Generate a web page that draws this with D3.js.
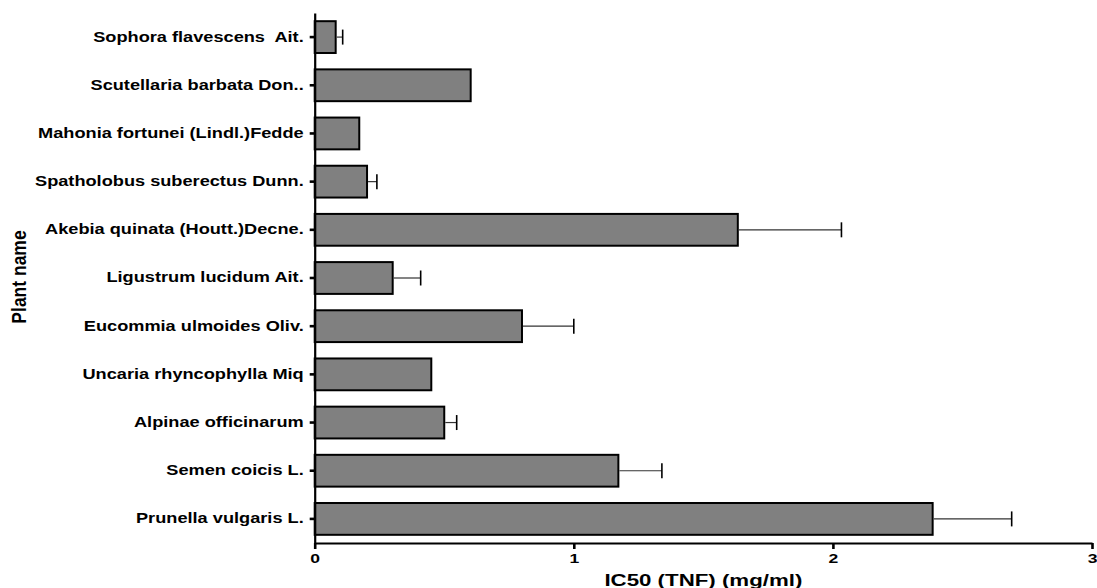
<!DOCTYPE html>
<html>
<head>
<meta charset="utf-8">
<script src="https://cdn.jsdelivr.net/npm/d3@7"></script>
<style>
  html, body { margin: 0; padding: 0; background: #fff; }
  svg { display: block; }
  text { font-family: "Liberation Sans", Arial, sans-serif; font-weight: bold; fill: #000; }
</style>
</head>
<body>
<svg id="chart" width="1097" height="588"></svg>
<script>
const categories = [
  "Sophora flavescens  Ait.",
  "Scutellaria barbata Don..",
  "Mahonia fortunei (Lindl.)Fedde",
  "Spatholobus suberectus Dunn.",
  "Akebia quinata (Houtt.)Decne.",
  "Ligustrum lucidum Ait.",
  "Eucommia ulmoides Oliv.",
  "Uncaria rhyncophylla Miq",
  "Alpinae officinarum",
  "Semen coicis L.",
  "Prunella vulgaris L."
];
const values = [0.081, 0.602, 0.172, 0.202, 1.633, 0.301, 0.800, 0.450, 0.500, 1.172, 2.385];
const errors = [0.027, 0, 0, 0.038, 0.400, 0.108, 0.200, 0, 0.048, 0.168, 0.305];
const xTicks = [0, 1, 2, 3];
const xTitle = "IC50 (TNF) (mg/ml)";
const yTitle = "Plant name";

const svg = d3.select("#chart");
const mLeft = 314.7, mRight = 1092, mTop = 13, mBottom = 543;
const stretch = 1.3;

const x = d3.scaleLinear().domain([0, 3]).range([mLeft, mRight]);
const y = d3.scaleBand().domain(categories).range([mTop, mBottom])
  .paddingInner(0.34).paddingOuter(0.17);

// bars
svg.append("g").selectAll("rect").data(categories).join("rect")
  .attr("x", x(0))
  .attr("y", d => y(d))
  .attr("width", (d, i) => x(values[i]) - x(0))
  .attr("height", y.bandwidth())
  .attr("fill", "#808080")
  .attr("stroke", "#000")
  .attr("stroke-width", 2);

// error bars (positive only)
const eg = svg.append("g");
categories.forEach((c, i) => {
  if (!errors[i]) return;
  const cy = y(c) + y.bandwidth() / 2;
  const x1 = x(values[i]), x2 = x(values[i] + errors[i]);
  eg.append("line").attr("x1", x1 + 1).attr("x2", x2).attr("y1", cy).attr("y2", cy)
    .attr("stroke", "#333").attr("stroke-width", 1.2);
  eg.append("line").attr("x1", x2).attr("x2", x2).attr("y1", cy - 7.5).attr("y2", cy + 7.5)
    .attr("stroke", "#000").attr("stroke-width", 1.6);
});

// x axis
const xAxis = svg.append("g").attr("transform", `translate(0,${mBottom})`)
  .call(d3.axisBottom(x).tickValues(xTicks).tickFormat(d3.format("d")).tickSize(6).tickSizeOuter(0));
xAxis.select(".domain").attr("stroke", "#000").attr("stroke-width", 2.2);
xAxis.selectAll(".tick line").attr("stroke", "#000").attr("stroke-width", 2.6);
xAxis.selectAll(".tick text").attr("font-size", 13.5).attr("font-family", "Liberation Sans, Arial, sans-serif")
  .attr("font-weight", "bold").attr("dy", "0.71em").attr("y", 10)
  .attr("transform", `scale(${stretch},1)`);

// y axis
const yAxis = svg.append("g").attr("transform", `translate(${mLeft},0)`)
  .call(d3.axisLeft(y).tickSize(5).tickSizeOuter(0).tickPadding(6));
yAxis.select(".domain").attr("stroke", "#000").attr("stroke-width", 2.2);
yAxis.selectAll(".tick line").attr("stroke", "#000").attr("stroke-width", 2.6);
yAxis.selectAll(".tick text").attr("font-size", 14).attr("font-family", "Liberation Sans, Arial, sans-serif")
  .attr("font-weight", "bold").style("white-space", "pre")
  .attr("x", 0).attr("transform", `translate(-11,0) scale(${stretch},1)`);

// titles
svg.append("text").attr("transform", `translate(${(mLeft + mRight) / 2},586) scale(1.35,1)`)
  .attr("text-anchor", "middle").attr("font-size", 16.5).text(xTitle);
svg.append("text").attr("transform", `translate(26,277) rotate(-90) scale(1,1.15)`)
  .attr("text-anchor", "middle").attr("font-size", 17.5).text(yTitle);
</script>
</body>
</html>
